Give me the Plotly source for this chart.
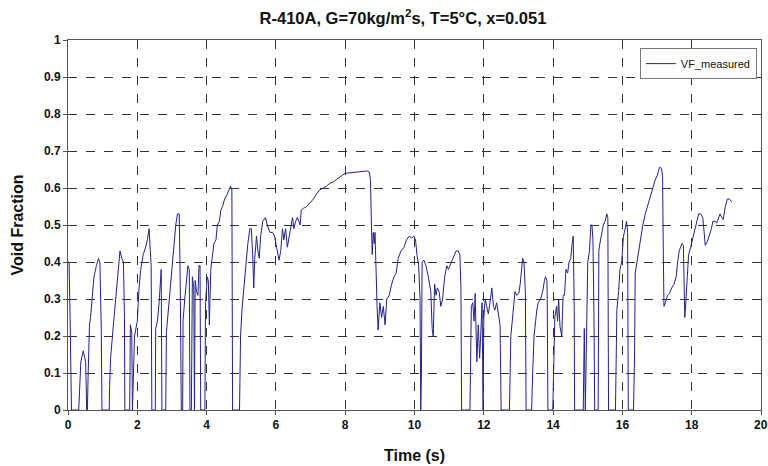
import plotly.graph_objects as go

time_s = [
    0.00, 0.03, 0.06, 0.08, 0.10, 0.31, 0.33, 0.37, 0.44, 0.48, 0.51, 0.54, 0.56, 0.58, 0.62, 0.65,
    0.70, 0.75, 0.82, 0.88, 0.92, 0.96, 0.98, 1.19, 1.20, 1.23, 1.31, 1.38, 1.42, 1.50, 1.55, 1.60,
    1.63, 1.64, 1.78, 1.80, 1.84, 1.86, 1.89, 1.92, 2.00, 2.05, 2.10, 2.17, 2.24, 2.29, 2.34, 2.37,
    2.40, 2.42, 2.52, 2.53, 2.58, 2.63, 2.67, 2.69, 2.71, 2.82, 2.84, 2.91, 2.96, 3.01, 3.06, 3.11,
    3.16, 3.21, 3.24, 3.27, 3.31, 3.32, 3.37, 3.42, 3.46, 3.50, 3.52, 3.56, 3.59, 3.63, 3.65, 3.67,
    3.71, 3.75, 3.78, 3.81, 3.83, 3.95, 3.97, 4.02, 4.05, 4.08, 4.12, 4.16, 4.21, 4.27, 4.31, 4.37,
    4.41, 4.46, 4.52, 4.58, 4.64, 4.69, 4.73, 4.75, 4.95, 4.98, 5.02, 5.08, 5.14, 5.19, 5.25, 5.29,
    5.33, 5.36, 5.39, 5.44, 5.48, 5.52, 5.56, 5.62, 5.70, 5.75, 5.83, 5.90, 5.96, 6.04, 6.09, 6.14,
    6.19, 6.23, 6.28, 6.33, 6.38, 6.43, 6.48, 6.52, 6.57, 6.62, 6.70, 6.73, 6.79, 6.89, 6.98, 7.08,
    7.18, 7.27, 7.37, 7.46, 7.56, 7.66, 7.75, 7.85, 8.00, 8.14, 8.33, 8.52, 8.62, 8.70, 8.73, 8.76,
    8.78, 8.81, 8.84, 8.86, 8.89, 8.92, 8.95, 9.00, 9.05, 9.10, 9.15, 9.20, 9.27, 9.34, 9.41, 9.47,
    9.53, 9.61, 9.70, 9.77, 9.85, 9.92, 9.98, 10.03, 10.07, 10.12, 10.16, 10.18, 10.20, 10.22, 10.27, 10.33,
    10.40, 10.47, 10.51, 10.54, 10.58, 10.62, 10.66, 10.71, 10.76, 10.81, 10.87, 10.93, 10.98, 11.04, 11.12, 11.20,
    11.26, 11.31, 11.34, 11.36, 11.60, 11.64, 11.68, 11.72, 11.75, 11.77, 11.80, 11.84, 11.88, 11.91, 11.95, 11.98,
    12.00, 12.04, 12.08, 12.13, 12.18, 12.23, 12.28, 12.32, 12.37, 12.43, 12.47, 12.50, 12.74, 12.78, 12.81, 12.85,
    12.90, 12.95, 13.01, 13.05, 13.09, 13.12, 13.16, 13.20, 13.22, 13.38, 13.41, 13.45, 13.53, 13.57, 13.64, 13.70,
    13.75, 13.78, 13.82, 13.83, 13.85, 13.99, 14.05, 14.10, 14.13, 14.16, 14.20, 14.25, 14.29, 14.33, 14.37, 14.42,
    14.46, 14.51, 14.55, 14.58, 14.61, 14.62, 14.87, 14.90, 14.93, 14.97, 15.00, 15.05, 15.09, 15.12, 15.15, 15.18,
    15.20, 15.30, 15.32, 15.35, 15.40, 15.45, 15.50, 15.55, 15.58, 15.60, 15.80, 15.84, 15.89, 15.93, 15.98, 16.03,
    16.08, 16.12, 16.15, 16.17, 16.32, 16.35, 16.37, 16.43, 16.47, 16.53, 16.59, 16.66, 16.72, 16.80, 16.87, 16.94,
    17.01, 17.07, 17.13, 17.16, 17.18, 17.20, 17.24, 17.30, 17.36, 17.42, 17.49, 17.55, 17.60, 17.64, 17.68, 17.72,
    17.76, 17.78, 17.80, 17.83, 17.86, 17.88, 17.91, 17.97, 18.02, 18.08, 18.14, 18.20, 18.26, 18.32, 18.36, 18.39,
    18.45, 18.51, 18.57, 18.61, 18.68, 18.72, 18.77, 18.82, 18.87, 18.91, 18.97, 19.03, 19.09, 19.15,
]

vf_measured = [
    0.40, 0.40, 0.25, 0.16, 0.00, 0.00, 0.06, 0.13, 0.16, 0.14, 0.13, 0.00, 0.00, 0.09, 0.23, 0.25,
    0.32, 0.36, 0.39, 0.41, 0.40, 0.22, 0.00, 0.00, 0.06, 0.14, 0.23, 0.31, 0.36, 0.43, 0.41, 0.40,
    0.25, 0.00, 0.00, 0.23, 0.21, 0.00, 0.10, 0.20, 0.24, 0.33, 0.38, 0.42, 0.44, 0.46, 0.49, 0.44,
    0.39, 0.00, 0.00, 0.22, 0.24, 0.29, 0.35, 0.38, 0.00, 0.00, 0.21, 0.29, 0.33, 0.40, 0.44, 0.50,
    0.53, 0.53, 0.33, 0.00, 0.00, 0.24, 0.30, 0.35, 0.39, 0.38, 0.00, 0.00, 0.36, 0.33, 0.00, 0.35,
    0.32, 0.31, 0.39, 0.39, 0.00, 0.00, 0.29, 0.36, 0.35, 0.23, 0.38, 0.41, 0.45, 0.46, 0.50, 0.51,
    0.54, 0.55, 0.57, 0.58, 0.595, 0.605, 0.595, 0.00, 0.00, 0.20, 0.27, 0.34, 0.41, 0.45, 0.49, 0.49,
    0.42, 0.33, 0.41, 0.47, 0.43, 0.41, 0.47, 0.51, 0.52, 0.50, 0.48, 0.48, 0.47, 0.43, 0.405, 0.43,
    0.49, 0.46, 0.49, 0.44, 0.47, 0.50, 0.52, 0.49, 0.51, 0.52, 0.50, 0.54, 0.545, 0.55, 0.56, 0.57,
    0.585, 0.595, 0.60, 0.605, 0.613, 0.617, 0.623, 0.63, 0.64, 0.641, 0.643, 0.646, 0.646, 0.643, 0.62, 0.49,
    0.42, 0.48, 0.45, 0.48, 0.36, 0.28, 0.216, 0.29, 0.25, 0.28, 0.23, 0.30, 0.31, 0.34, 0.36, 0.37,
    0.41, 0.43, 0.44, 0.46, 0.47, 0.465, 0.47, 0.46, 0.42, 0.39, 0.30, 0.00, 0.10, 0.40, 0.405, 0.39,
    0.36, 0.32, 0.22, 0.20, 0.34, 0.31, 0.33, 0.32, 0.28, 0.30, 0.36, 0.39, 0.38, 0.395, 0.41, 0.43,
    0.43, 0.42, 0.33, 0.00, 0.00, 0.28, 0.29, 0.24, 0.315, 0.26, 0.13, 0.23, 0.14, 0.20, 0.29, 0.00,
    0.25, 0.30, 0.28, 0.26, 0.29, 0.33, 0.28, 0.27, 0.29, 0.26, 0.23, 0.00, 0.00, 0.20, 0.23, 0.28,
    0.32, 0.31, 0.315, 0.34, 0.39, 0.41, 0.40, 0.315, 0.00, 0.00, 0.10, 0.20, 0.27, 0.29, 0.30, 0.32,
    0.35, 0.36, 0.35, 0.31, 0.00, 0.00, 0.25, 0.28, 0.24, 0.30, 0.225, 0.20, 0.31, 0.31, 0.38, 0.37,
    0.40, 0.41, 0.45, 0.47, 0.27, 0.00, 0.00, 0.22, 0.00, 0.22, 0.40, 0.43, 0.50, 0.50, 0.46, 0.25,
    0.00, 0.00, 0.43, 0.45, 0.48, 0.50, 0.51, 0.53, 0.52, 0.00, 0.00, 0.27, 0.32, 0.38, 0.40, 0.47,
    0.49, 0.51, 0.48, 0.00, 0.00, 0.14, 0.37, 0.405, 0.43, 0.47, 0.50, 0.53, 0.55, 0.58, 0.60, 0.62,
    0.635, 0.656, 0.653, 0.63, 0.43, 0.28, 0.29, 0.31, 0.315, 0.33, 0.34, 0.36, 0.405, 0.43, 0.44, 0.45,
    0.445, 0.36, 0.25, 0.29, 0.34, 0.405, 0.42, 0.44, 0.46, 0.48, 0.51, 0.53, 0.53, 0.52, 0.48, 0.445,
    0.455, 0.47, 0.49, 0.51, 0.51, 0.505, 0.52, 0.53, 0.52, 0.515, 0.55, 0.57, 0.57, 0.563,
]

x_ticks = [0, 2, 4, 6, 8, 10, 12, 14, 16, 18, 20]
y_ticks = [0, 0.1, 0.2, 0.3, 0.4, 0.5, 0.6, 0.7, 0.8, 0.9, 1]

TICK_FONT = dict(family="Liberation Sans, Arial", size=12, color="#111111", weight="bold")
LAST_X = x_ticks[-1]

fig = go.Figure()
fig.add_trace(go.Scatter(
    x=time_s, y=vf_measured, mode="lines", name="VF_measured",
    line=dict(color="#22228c", width=1),
))

axis_common = dict(
    showline=True, linecolor="#555555", linewidth=1, mirror=True,
    showgrid=True, gridcolor="#333333", griddash="dash", gridwidth=1,
    ticks="outside", ticklen=4, tickcolor="#555555",
    zeroline=False, automargin=False,
    tickfont=TICK_FONT,
)

W, H = 768, 466
fig.update_layout(
    width=W, height=H,
    margin=dict(l=68, r=7, t=40, b=56),
    paper_bgcolor="white", plot_bgcolor="white",
    title=dict(
        text="R-410A, G=70kg/m<sup>2</sup>s, T=5°C, x=0.051",
        font=dict(family="Liberation Sans, Arial", size=16.5, color="#111111", weight="bold"),
        x=403 / W, xref="container", xanchor="center",
        y=1 - 18 / H, yref="container", yanchor="middle",
        automargin=False,
    ),
    xaxis=dict(
        range=[0, 20], tickvals=x_ticks,
        # the last label runs past the figure edge; it is drawn as an annotation below
        ticktext=[str(t) if t != LAST_X else "" for t in x_ticks],
        title=dict(text="Time (s)", standoff=18,
                   font=dict(family="Liberation Sans, Arial", size=16, color="#111111", weight="bold")),
        **axis_common,
    ),
    yaxis=dict(
        range=[0, 1], tickvals=y_ticks,
        title=dict(text="Void Fraction", standoff=16,
                   font=dict(family="Liberation Sans, Arial", size=16, color="#111111", weight="bold")),
        **axis_common,
    ),
    showlegend=True,
    legend=dict(
        x=0.994, y=0.978, xanchor="right", yanchor="top",
        bgcolor="white", bordercolor="#777777", borderwidth=1,
        font=dict(family="Liberation Sans, Arial", size=11, color="#111111"),
        itemwidth=30, tracegroupgap=0,
    ),
)

fig.add_annotation(
    x=LAST_X, y=0, xref="x", yref="y", text=str(LAST_X), showarrow=False,
    xanchor="center", yanchor="top", yshift=-6, font=TICK_FONT,
)

# remove the browser's default 8px body margin so the figure fills the window exactly
fig.write_html(
    "out.html",
    config={"displayModeBar": False},
    post_script="document.body.style.margin='0';document.body.style.overflow='hidden';",
)
